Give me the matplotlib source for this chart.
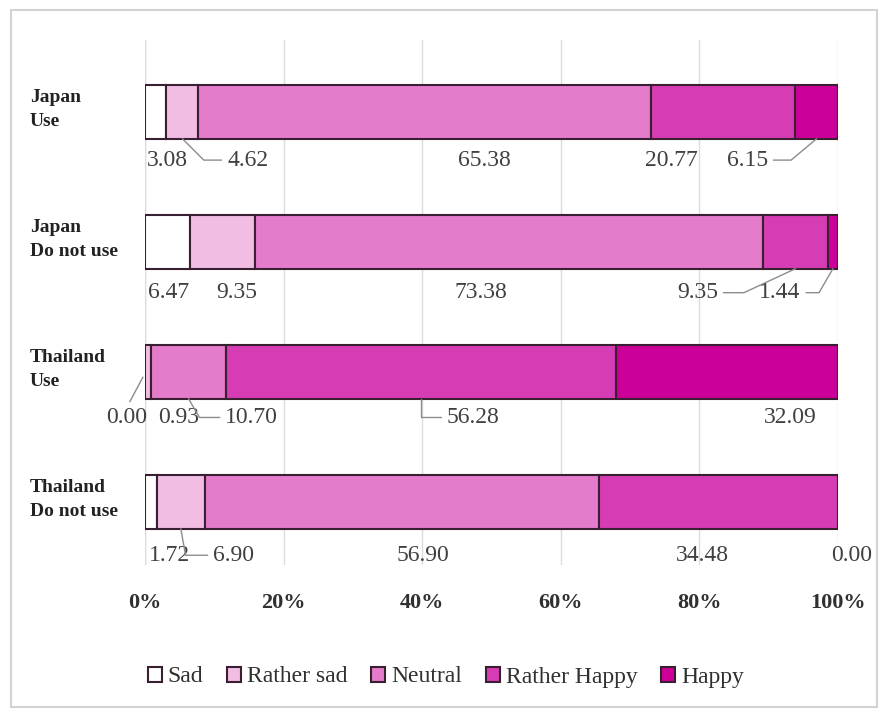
import matplotlib
matplotlib.use("Agg")
import matplotlib.pyplot as plt
from matplotlib.patches import Rectangle
import numpy as np

plt.rcParams['font.family'] = ['Liberation Serif', 'DejaVu Serif']

# ---------------- data ----------------
categories = ["Japan\nUse", "Japan\nDo not use", "Thailand\nUse", "Thailand\nDo not use"]
series_names = ["Sad", "Rather sad", "Neutral", "Rather Happy", "Happy"]
sad = [3.08, 6.47, 0.00, 1.72]
rather_sad = [4.62, 9.35, 0.93, 6.90]
neutral = [65.38, 73.38, 10.70, 56.90]
rather_happy = [20.77, 9.35, 56.28, 34.48]
happy = [6.15, 1.44, 32.09, 0.00]
tick_values = [0, 20, 40, 60, 80, 100]
tick_labels = ["0%", "20%", "40%", "60%", "80%", "100%"]

# ---------------- layout / style ----------------
colors = ["#FFFFFF", "#F1BDE3", "#E47BCB", "#D63CB3", "#CC0099"]
edge_color = "#3A1F33"
# label x positions (percent axis) for each row / series
label_x = [
    [3.3, 14.8, 49.0, 75.9, 86.9],
    [3.4, 13.3, 48.4, 79.7, 91.6],
    [-2.6, 4.8, 15.4, 47.3, 93.1],
    [3.6, 12.8, 40.1, 80.4, 101.9],
]
label_dy = [0.37, 0.39, 0.35, 0.41]
# leader lines: (row, series, anchor on label, connection, target offset x, target dy)
leaders = [
    (0, 1, (0, 0.5), "angle,angleA=0,angleB=-45", 0.0, None),
    (0, 4, (1, 0.5), "angle,angleA=0,angleB=40", 0.0, None),
    (1, 3, (1, 0.5), "angle,angleA=0,angleB=25", 0.0, None),
    (1, 4, (1, 0.5), "angle,angleA=0,angleB=60", 0.0, None),
    (2, 0, (0.5, 1.0), "arc3,rad=0", -0.3, 0.04),
    (2, 2, (0, 0.5), "angle,angleA=0,angleB=-60", 0.0, None),
    (2, 3, (0, 0.5), "angle,angleA=0,angleB=90", 0.0, None),
    (3, 1, (0, 0.5), "angle,angleA=0,angleB=-80", 0.0, None),
]

fig = plt.figure(figsize=(8.8, 7.13), dpi=100)
fig.patch.set_facecolor("white")
fig.add_artist(Rectangle((11 / 880, 6 / 713), 866 / 880, 697 / 713,
                         transform=fig.transFigure, fill=False,
                         edgecolor="#D3D3D3", lw=1.5))

ax = fig.add_axes([145 / 880, (713 - 565) / 713, 693 / 880, 525 / 713])

data = np.array([sad, rather_sad, neutral, rather_happy, happy])
y = np.arange(len(categories))
bar_h = 0.41
left = np.zeros(len(categories))
for i, name in enumerate(series_names):
    ax.barh(y, data[i], left=left, height=bar_h, color=colors[i],
            edgecolor=edge_color, linewidth=1.5, label=name, zorder=3)
    left += data[i]

ax.set_xlim(0, 100)
ax.set_ylim(3.485, -0.554)
ax.set_xticks(tick_values)
ax.set_xticklabels(tick_labels, fontsize=16, fontweight="bold", color="#303030")
ax.tick_params(axis="x", length=0, pad=20)
ax.set_yticks([])
for s in ax.spines.values():
    s.set_visible(False)
ax.grid(axis="x", color="#DCDCDC", lw=1.0, zorder=0)
ax.axvline(0, color="#DCDCDC", lw=1.0, zorder=0)

# category labels
for r, cat in enumerate(categories):
    ax.text(-0.166, y[r] - 0.02, cat, transform=ax.get_yaxis_transform(),
            ha="left", va="center", fontsize=14, fontweight="bold",
            color="#222222", linespacing=1.5)

# value labels
leader_map = {(r, s): (rp, cs, ox, tdy) for r, s, rp, cs, ox, tdy in leaders}
starts = np.vstack([np.zeros(len(categories)), np.cumsum(data, axis=0)[:-1]])
for r in range(len(categories)):
    for s in range(len(series_names)):
        val = data[s][r]
        txt = f"{val:.2f}"
        tx = label_x[r][s]
        ty = y[r] + label_dy[r]
        if (r, s) in leader_map:
            relpos, cs, ox, tdy = leader_map[(r, s)]
            cx = starts[s][r] + val / 2 + ox
            cy = y[r] + (bar_h / 2 if tdy is None else tdy)
            ax.annotate(txt, xy=(cx, cy), xytext=(tx, ty), ha="center", va="center",
                        fontsize=17, color="#404040", annotation_clip=False, zorder=5,
                        arrowprops=dict(arrowstyle="-", color="#8C8C8C", lw=1.0,
                                        relpos=relpos, shrinkA=2, shrinkB=0,
                                        connectionstyle=cs))
        else:
            ax.text(tx, ty, txt, ha="center", va="center", fontsize=17,
                    color="#404040", clip_on=False)

handles, labels = ax.get_legend_handles_labels()
leg = fig.legend(handles, labels, loc="center", bbox_to_anchor=(446 / 880, (713 - 677) / 713),
                 ncol=5, frameon=False, fontsize=17, handlelength=0.6, handleheight=0.6,
                 handletextpad=0.25, columnspacing=1.0)
for t in leg.get_texts():
    t.set_color("#303030")

fig.savefig("out.png", dpi=100, facecolor="white")
